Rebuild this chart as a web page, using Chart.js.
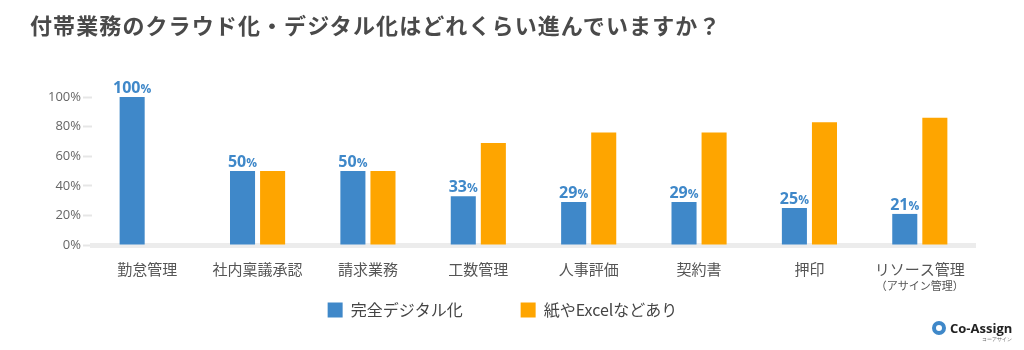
<!DOCTYPE html>
<html>
<head>
<meta charset="utf-8">
<script src="https://cdn.jsdelivr.net/npm/chart.js@4/dist/chart.umd.min.js"></script>
<style>
  body { margin: 0; background: #fff; }
  #wrap { position: relative; width: 1024px; height: 350px; }
  #title {
    position: absolute; left: 30px; top: 8px;
    font-family: "Noto Sans CJK JP", sans-serif; font-weight: 700;
    font-size: 22px; color: #4a4a4a; letter-spacing: 1.1px;
  }
  #logo {
    position: absolute; left: 932px; top: 319px;
    font-family: "Open Sans", sans-serif; font-weight: 700; font-size: 13px; color: #222;
  }
  #logo .mark {
    display: inline-block; width: 14px; height: 14px; border-radius: 50%;
    border: 4px solid #3f88c9; box-sizing: border-box; vertical-align: -2px; margin-right: 4px;
  }
  #logo .sub { position: absolute; left: 50px; top: 17px; font-size: 5px; font-weight: 400; color: #666; }
</style>
</head>
<body>
<div id="wrap">
  <div id="title">付帯業務のクラウド化・デジタル化はどれくらい進んでいますか？</div>
  <canvas id="chart" width="1024" height="350"></canvas>
  <div id="logo"><span class="mark"></span>Co-Assign<span class="sub">コーアサイン</span></div>
</div>
<script>
const categories = ['勤怠管理', '社内稟議承認', '請求業務', '工数管理', '人事評価', '契約書', '押印', 'リソース管理'];
const subLabels = ['', '', '', '', '', '', '', '（アサイン管理）'];
const digitalValues = [100, 50, 50, 33, 29, 29, 25, 21];
const paperValues = [null, 50, 50, 69, 76, 76, 83, 86];
const yTicks = [0, 20, 40, 60, 80, 100];

const blue = '#3f88c9';
const orange = '#fea500';

// blue value labels above the bars, with a smaller %
const valueLabels = {
  id: 'valueLabels',
  afterDatasetsDraw(chart) {
    const ctx = chart.ctx;
    const meta = chart.getDatasetMeta(0);
    ctx.save();
    ctx.fillStyle = blue;
    ctx.textBaseline = 'alphabetic';
    ctx.textAlign = 'left';
    meta.data.forEach((bar, i) => {
      const num = String(digitalValues[i]);
      ctx.font = 'bold 16px "Open Sans", sans-serif';
      const w1 = ctx.measureText(num).width;
      ctx.font = 'bold 12px "Open Sans", sans-serif';
      const w2 = ctx.measureText('%').width;
      const x0 = bar.x - (w1 + w2) / 2;
      const y = bar.y - 4;
      ctx.font = 'bold 16px "Open Sans", sans-serif';
      ctx.fillText(num, x0, y);
      ctx.font = 'bold 12px "Open Sans", sans-serif';
      ctx.fillText('%', x0 + w1, y);
    });
    ctx.restore();
  }
};

// second, smaller line under a category label
const subLabelPlugin = {
  id: 'subLabels',
  afterDraw(chart) {
    const ctx = chart.ctx;
    const x = chart.scales.x;
    ctx.save();
    ctx.font = '11px "Noto Sans CJK JP", sans-serif';
    ctx.fillStyle = '#555';
    ctx.textAlign = 'center';
    ctx.textBaseline = 'middle';
    subLabels.forEach((s, i) => {
      if (s) ctx.fillText(s, x.getPixelForValue(i), x.top + 41);
    });
    ctx.restore();
  }
};

new Chart(document.getElementById('chart'), {
  type: 'bar',
  data: {
    labels: categories,
    datasets: [
      { label: '完全デジタル化', data: digitalValues, backgroundColor: blue },
      { label: '紙やExcelなどあり', data: paperValues, backgroundColor: orange }
    ]
  },
  options: {
    responsive: false,
    animation: false,
    categoryPercentage: 0.545,
    barPercentage: 0.833,
    layout: { padding: { top: 97, left: 30, right: 49, bottom: 22 } },
    plugins: {
      tooltip: { enabled: false },
      legend: {
        position: 'bottom',
        labels: {
          boxWidth: 15, boxHeight: 15, padding: 10,
          color: '#444',
          font: { family: '"Noto Sans CJK JP", sans-serif', size: 16 },
          generateLabels(chart) {
            return chart.data.datasets.map((ds, i) => ({
              text: ds.label + (i === 0 ? '\u3000\u3000\u3000' : ''),
              fillStyle: ds.backgroundColor, strokeStyle: ds.backgroundColor,
              lineWidth: 0, datasetIndex: i, fontColor: '#444'
            }));
          }
        }
      }
    },
    scales: {
      x: {
        grid: { display: false },
        border: { display: true, color: '#ececec', width: 5 },
        ticks: {
          color: '#555', padding: 7,
          font: { family: '"Noto Sans CJK JP", sans-serif', size: 15 }
        },
        afterFit(scale) { scale.height = 47; }
      },
      y: {
        min: 0, max: 100,
        afterBuildTicks(scale) { scale.ticks = yTicks.map(v => ({ value: v })); },
        grid: { drawOnChartArea: false, drawTicks: true, tickLength: 9, tickWidth: 2, tickColor: '#e6e6e6' },
        border: { display: false },
        ticks: {
          color: '#666', padding: 2,
          font: { family: '"Open Sans", sans-serif', size: 13 },
          callback: v => v + '%'
        },
        afterFit(scale) { scale.width = 62; }
      }
    }
  },
  plugins: [valueLabels, subLabelPlugin]
});
</script>
</body>
</html>
